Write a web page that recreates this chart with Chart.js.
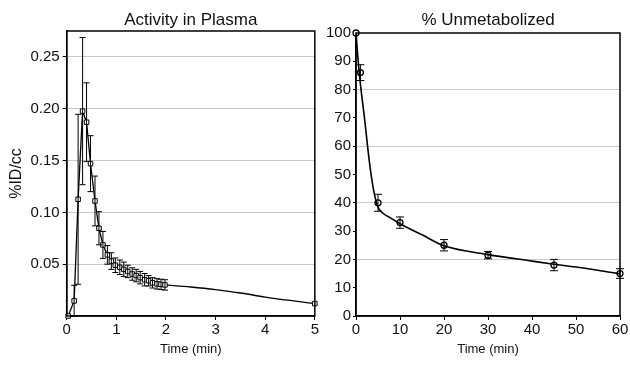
<!DOCTYPE html>
<html>
<head>
<meta charset="utf-8">
<script src="https://cdn.jsdelivr.net/npm/chart.js@4.4.1/dist/chart.umd.min.js"></script>
<style>
  body { margin: 0; background: #fff; }
  #wrap { position: relative; width: 630px; height: 365px; }
  #left { position: absolute; left: 0; top: 0; }
  #right { position: absolute; left: 320px; top: 0; }
</style>
</head>
<body>
<div id="wrap">
  <canvas id="left" width="320" height="365"></canvas>
  <canvas id="right" width="310" height="365"></canvas>
</div>
<script>
// Activity in Plasma
const plasmaTime = [0.03, 0.15, 0.23, 0.32, 0.40, 0.48, 0.57, 0.65, 0.73, 0.82, 0.90, 0.98, 1.07, 1.15, 1.23, 1.32, 1.40, 1.48, 1.57, 1.65, 1.73, 1.82, 1.90, 1.98];
const plasmaValue = [0.0, 0.0146, 0.1126, 0.1977, 0.187, 0.147, 0.111, 0.0847, 0.0686, 0.059, 0.053, 0.049, 0.047, 0.045, 0.043, 0.0405, 0.039, 0.037, 0.035, 0.034, 0.032, 0.031, 0.0305, 0.030];
const plasmaErr = [0, 0.015, 0.082, 0.071, 0.038, 0.027, 0.024, 0.016, 0.013, 0.009, 0.008, 0.007, 0.007, 0.007, 0.006, 0.006, 0.006, 0.006, 0.006, 0.005, 0.005, 0.005, 0.005, 0.005];
const plasmaTailTime = [1.98, 2.5, 3, 3.5, 4, 4.5, 5];
const plasmaTailValue = [0.030, 0.028, 0.0255, 0.0222, 0.0183, 0.015, 0.012];
const plasmaYTicks = [0.05, 0.10, 0.15, 0.20, 0.25];

// % Unmetabolized
const metabTime = [0, 1, 5, 10, 20, 30, 45, 60];
const metabValue = [100, 86, 40, 33, 25, 21.5, 18, 15];
const metabErr = [0, 2.8, 3, 2, 2, 1.3, 2, 1.7];
const metabFitTime = [0, 0.5, 1, 2, 3, 4, 5, 6, 8, 10, 15, 20, 30, 40, 45, 50, 60];
const metabFitValue = [100, 90, 82, 69, 55, 44.5, 38.5, 36.5, 34.5, 32.6, 28.7, 24.8, 21.7, 19.4, 18.3, 17.3, 14.9];
const metabGrid = [20, 40, 60, 80];

const FONT = "'Liberation Sans', Arial, sans-serif";
Chart.defaults.font.family = FONT;
Chart.defaults.color = '#111';

function xy(xs, ys) { return xs.map((x, i) => ({ x: x, y: ys[i] })); }

const errorBars = {
  id: 'errorBars',
  afterDatasetsDraw(chart) {
    const ctx = chart.ctx;
    const xs = chart.scales.x, ys = chart.scales.y;
    chart.data.datasets.forEach(ds => {
      if (!ds.errors) return;
      ctx.save();
      ctx.strokeStyle = '#000';
      ctx.lineWidth = 1;
      ds.data.forEach((p, i) => {
        const e = ds.errors[i];
        if (!e) return;
        const px = xs.getPixelForValue(p.x);
        const top = ys.getPixelForValue(p.y + e);
        const bot = ys.getPixelForValue(p.y - e);
        const w = ds.capWidth;
        ctx.beginPath();
        ctx.moveTo(px, top); ctx.lineTo(px, bot);
        ctx.moveTo(px - w, top); ctx.lineTo(px + w, top);
        ctx.moveTo(px - w, bot); ctx.lineTo(px + w, bot);
        ctx.stroke();
      });
      ctx.restore();
    });
  }
};

const frameBox = {
  id: 'frameBox',
  afterDraw(chart) {
    const a = chart.chartArea, ctx = chart.ctx;
    ctx.save();
    ctx.strokeStyle = '#000';
    ctx.lineWidth = 1.5;
    ctx.strokeRect(a.left, a.top, a.right - a.left, a.bottom - a.top);
    ctx.restore();
  }
};

new Chart(document.getElementById('left'), {
  type: 'scatter',
  data: {
    datasets: [
      {
        data: xy(plasmaTime, plasmaValue),
        errors: plasmaErr,
        capWidth: 3,
        showLine: true,
        borderColor: '#000',
        borderWidth: 1.3,
        tension: 0,
        pointStyle: 'rect',
        pointRadius: 3.2,
        pointBackgroundColor: '#fff',
        pointBorderColor: '#000',
        pointBorderWidth: 1,
        clip: false
      },
      {
        data: xy(plasmaTailTime, plasmaTailValue),
        showLine: true,
        borderColor: '#000',
        borderWidth: 1.3,
        tension: 0.4,
        cubicInterpolationMode: 'monotone',
        pointStyle: 'rect',
        pointRadius: c => c.dataIndex === plasmaTailTime.length - 1 ? 3.2 : 0,
        pointBackgroundColor: '#fff',
        pointBorderColor: '#000',
        pointBorderWidth: 1,
        clip: false
      }
    ]
  },
  options: {
    responsive: false,
    animation: false,
    layout: { padding: { left: 0, right: 3, top: 0, bottom: 0 } },
    plugins: {
      legend: { display: false },
      tooltip: { enabled: false },
      title: {
        display: true,
        fullSize: false,
        text: 'Activity in Plasma',
        font: { size: 17, weight: 'normal' },
        color: '#111',
        padding: { top: 10, bottom: 0.6 }
      }
    },
    scales: {
      x: {
        type: 'linear',
        min: 0, max: 5,
        afterFit: s => { s.height = 49; },
        ticks: { stepSize: 1, font: { size: 15 }, padding: 1, color: '#111' },
        grid: { drawOnChartArea: false, tickLength: 4, tickColor: '#000' },
        border: { color: '#000', width: 1.5 },
        title: { display: true, text: 'Time (min)', font: { size: 13 }, color: '#111', padding: { top: 4, bottom: 8 } }
      },
      y: {
        min: 0, max: 0.275,
        afterFit: s => { s.width = 66.7; },
        afterBuildTicks: s => { s.ticks = plasmaYTicks.map(v => ({ value: v })); },
        ticks: { font: { size: 15 }, padding: 3, color: '#111', callback: v => v.toFixed(2) },
        grid: { color: '#c8c8c8', lineWidth: 1, tickLength: 4, tickColor: '#000' },
        border: { color: '#000', width: 1.5 },
        title: { display: true, text: '%ID/cc', font: { size: 16 }, color: '#111', padding: { top: 7, bottom: 4 } }
      }
    }
  },
  plugins: [errorBars, frameBox]
});

new Chart(document.getElementById('right'), {
  type: 'scatter',
  data: {
    datasets: [
      {
        data: xy(metabFitTime, metabFitValue),
        showLine: true,
        borderColor: '#000',
        borderWidth: 1.6,
        tension: 0.4,
        cubicInterpolationMode: 'monotone',
        pointRadius: 0
      },
      {
        data: xy(metabTime, metabValue),
        errors: metabErr,
        capWidth: 4,
        showLine: false,
        pointStyle: 'circle',
        pointRadius: 3,
        pointBackgroundColor: '#fff',
        pointBorderColor: '#000',
        pointBorderWidth: 1.3,
        clip: false
      }
    ]
  },
  options: {
    responsive: false,
    animation: false,
    layout: { padding: { left: 0, right: 10, top: 0, bottom: 0 } },
    plugins: {
      legend: { display: false },
      tooltip: { enabled: false },
      title: {
        display: true,
        fullSize: false,
        text: '% Unmetabolized',
        font: { size: 17, weight: 'normal' },
        color: '#111',
        padding: { top: 10, bottom: 2.6 }
      }
    },
    scales: {
      x: {
        type: 'linear',
        min: 0, max: 60,
        afterFit: s => { s.height = 49; },
        ticks: { stepSize: 10, font: { size: 15 }, padding: 1, color: '#111' },
        grid: { drawOnChartArea: false, tickLength: 4, tickColor: '#000' },
        border: { color: '#000', width: 1.5 },
        title: { display: true, text: 'Time (min)', font: { size: 13 }, color: '#111', padding: { top: 4, bottom: 8 } }
      },
      y: {
        min: 0, max: 100,
        afterFit: s => { s.width = 36; },
        ticks: { stepSize: 10, font: { size: 15 }, padding: 2, color: '#111' },
        grid: {
          color: c => metabGrid.includes(c.tick && c.tick.value) ? '#c8c8c8' : 'rgba(0,0,0,0)',
          tickLength: 3, tickColor: '#000'
        },
        border: { color: '#000', width: 1.5 }
      }
    }
  },
  plugins: [errorBars, frameBox]
});
</script>
</body>
</html>
